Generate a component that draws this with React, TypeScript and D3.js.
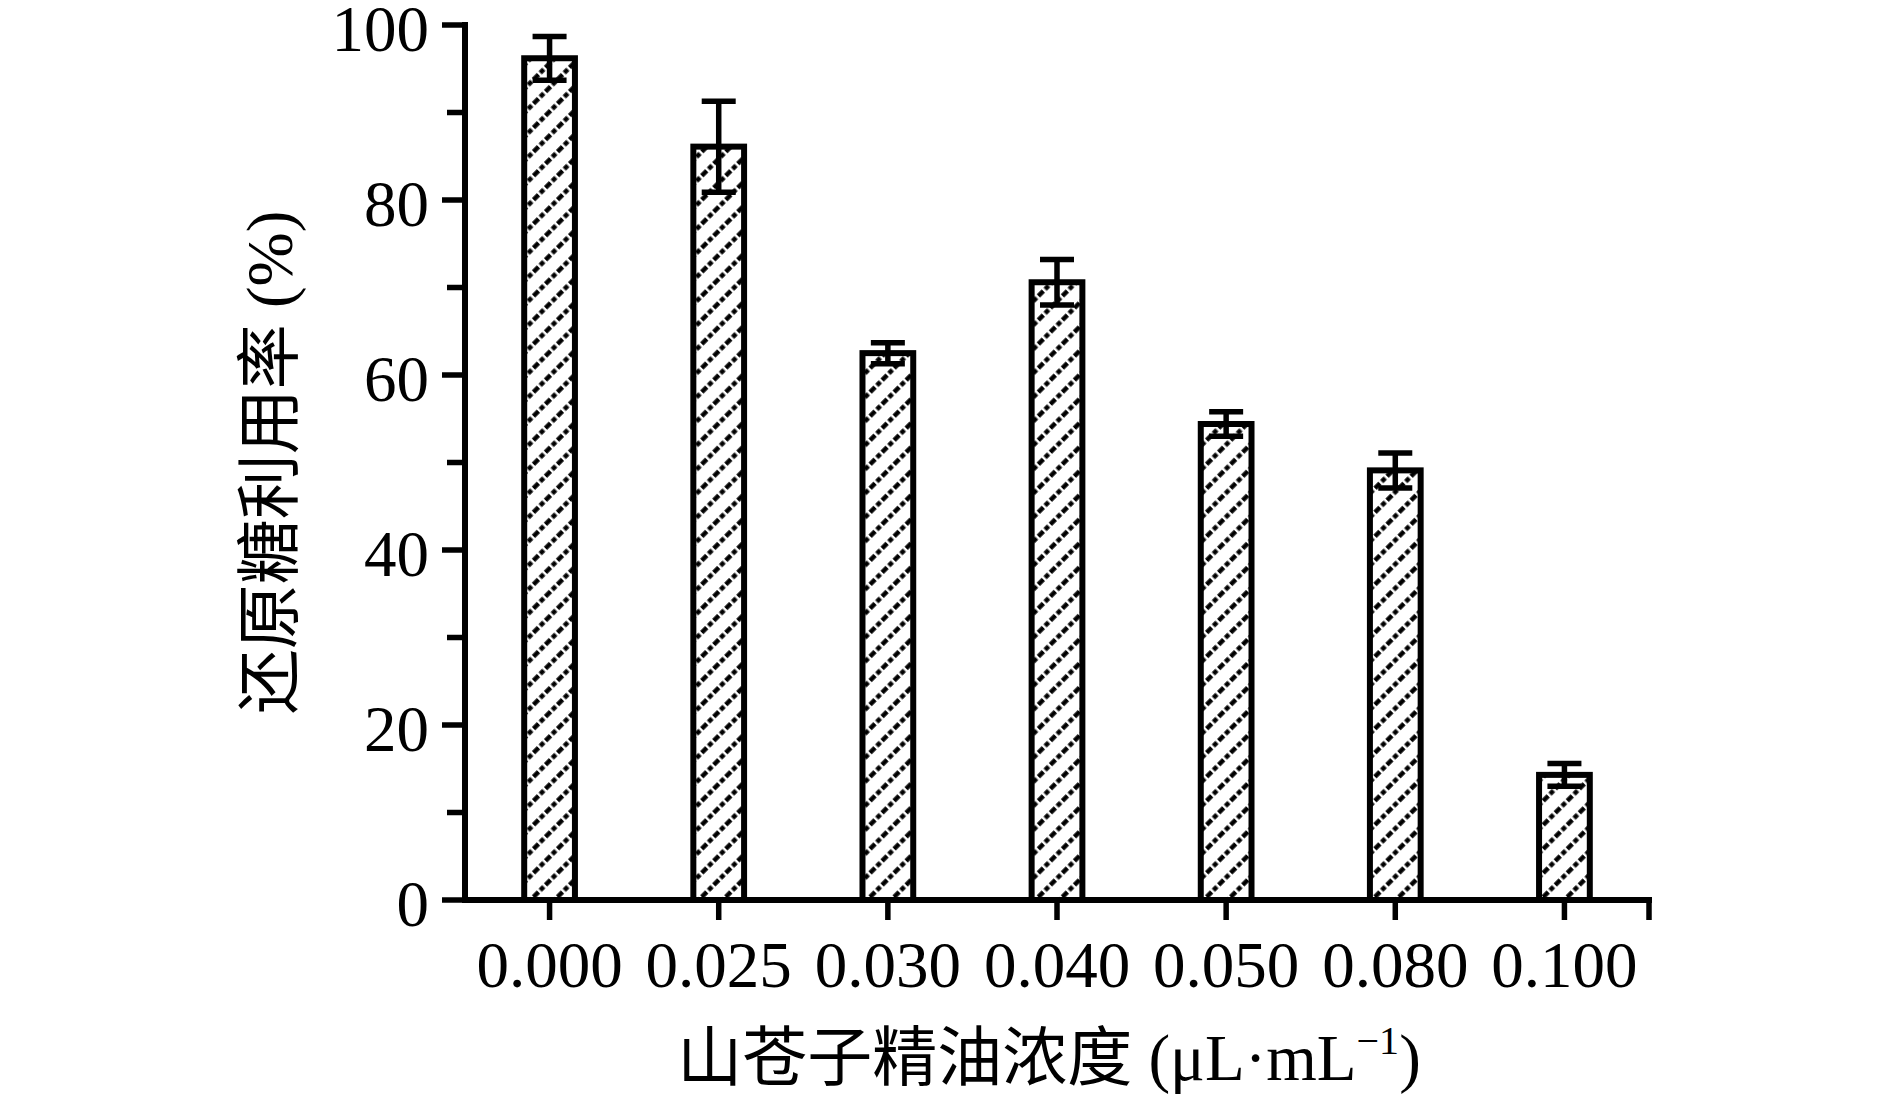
import React from "react";
import * as d3 from "d3";

const categories = ["0.000", "0.025", "0.030", "0.040", "0.050", "0.080", "0.100"];
const values = [96.2, 86.1, 62.5, 70.6, 54.4, 49.1, 14.3];
const errors = [2.5, 5.2, 1.2, 2.6, 1.4, 2.0, 1.3];
const majorTicks = [0, 20, 40, 60, 80, 100];
const minorTicks = [10, 30, 50, 70, 90];

const W = 1890;
const H = 1100;
const left = 465;
const right = 1649;
const top = 25;
const bottom = 900;

export default function App() {
  const x = d3.scaleBand<string>().domain(categories).range([left, right]).padding(0);
  const y = d3.scaleLinear().domain([0, 100]).range([bottom, top]);
  const bw = x.bandwidth() * 0.3;
  const capW = 34;
  const serif = "'Liberation Serif', 'Times New Roman', 'Noto Sans CJK SC', serif";
  const fs = 65;

  return (
    <svg
      width={W}
      height={H}
      style={{ position: "absolute", left: 0, top: 0, background: "#fff" }}
      fontFamily={serif}
    >
      <defs>
        <pattern id="hatch" patternUnits="userSpaceOnUse" width="17" height="17" patternTransform="rotate(-45)">
          <rect width="17" height="17" fill="#fff" />
          <line x1="0" y1="8.5" x2="17" y2="8.5" stroke="#000" strokeWidth="4.5" strokeDasharray="5 2.5" />
        </pattern>
      </defs>

      {/* bars */}
      {categories.map((c, i) => {
        const cx = (x(c) as number) + x.bandwidth() / 2;
        return (
          <rect
            key={"b" + c}
            x={cx - bw / 2}
            y={y(values[i])}
            width={bw}
            height={y(0) - y(values[i])}
            fill="url(#hatch)"
            stroke="#000"
            strokeWidth={6}
          />
        );
      })}

      {/* error bars */}
      {categories.map((c, i) => {
        const cx = (x(c) as number) + x.bandwidth() / 2;
        const yt = y(values[i] + errors[i]);
        const yb = y(values[i] - errors[i]);
        return (
          <g key={"e" + c} stroke="#000" strokeWidth={5.5}>
            <line x1={cx} x2={cx} y1={yt} y2={yb} />
            <line x1={cx - capW / 2} x2={cx + capW / 2} y1={yt} y2={yt} />
            <line x1={cx - capW / 2} x2={cx + capW / 2} y1={yb} y2={yb} />
          </g>
        );
      })}

      {/* y axis */}
      <line x1={left} x2={left} y1={top - 3} y2={bottom + 3} stroke="#000" strokeWidth={6} />
      {majorTicks.map((t) => (
        <g key={"mt" + t}>
          <line x1={left - 23} x2={left} y1={y(t)} y2={y(t)} stroke="#000" strokeWidth={5.5} />
          <text x={429} y={y(t)} dy="0.4em" textAnchor="end" fontSize={fs} fill="#000">
            {t}
          </text>
        </g>
      ))}
      {minorTicks.map((t) => (
        <line key={"mn" + t} x1={left - 18} x2={left} y1={y(t)} y2={y(t)} stroke="#000" strokeWidth={5.5} />
      ))}

      {/* x axis */}
      <line x1={left - 3} x2={right + 3} y1={bottom} y2={bottom} stroke="#000" strokeWidth={6} />
      {categories.map((c) => {
        const cx = (x(c) as number) + x.bandwidth() / 2;
        return (
          <g key={"xt" + c}>
            <line x1={cx} x2={cx} y1={bottom} y2={bottom + 20} stroke="#000" strokeWidth={5.5} />
            <text x={cx} y={987} textAnchor="middle" fontSize={fs} fill="#000">
              {c}
            </text>
          </g>
        );
      })}
      <line x1={right} x2={right} y1={bottom} y2={bottom + 20} stroke="#000" strokeWidth={5.5} />

      {/* axis titles */}
      <text
        transform={`translate(292, ${(top + bottom) / 2}) rotate(-90)`}
        textAnchor="middle"
        fontSize={fs}
        fill="#000"
      >
        还原糖利用率 (%)
      </text>
      <text x={(left + right) / 2 - 8} y={1080} textAnchor="middle" fontSize={fs} fill="#000">
        山苍子精油浓度 (μL·mL
        <tspan dy={-26} fontSize={40}>−1</tspan>
        <tspan dy={26}>)</tspan>
      </text>
    </svg>
  );
}
